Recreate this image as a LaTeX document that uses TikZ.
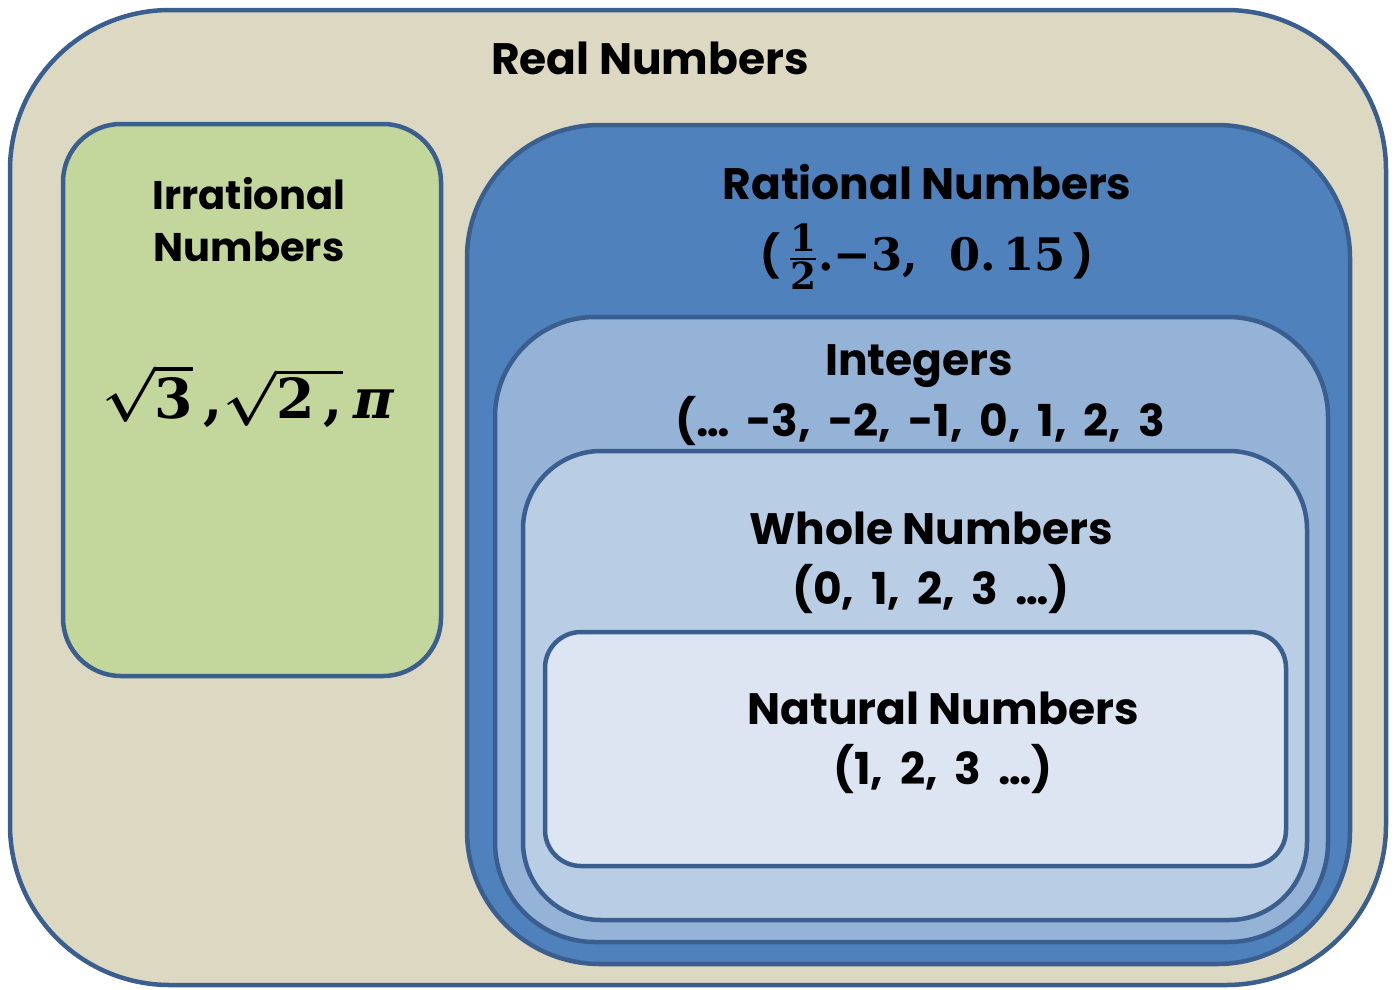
\documentclass[tikz,border=0pt]{standalone}
\usepackage{amsmath,graphicx}
\usepackage[no-math]{fontspec}
\setmainfont{Poppins}
\newfontfamily\numfont{Poppins}[WordSpace=1.8]
\newfontfamily\cmb{DejaVu Serif}
\newcommand{\bn}[1]{\text{\cmb\bfseries #1}}
\definecolor{edge}{HTML}{3A5F8E}
\definecolor{tan}{HTML}{DDD8C2}
\definecolor{irr}{HTML}{C3D69B}
\definecolor{rat}{HTML}{4F81BD}
\definecolor{intc}{HTML}{95B3D7}
\definecolor{whole}{HTML}{B9CDE5}
\definecolor{nat}{HTML}{DCE5F1}
\tikzset{
  setbox/.style={draw=edge, line width=4.5pt},
  ttl/.style={anchor=base, inner sep=0pt, font=\fontsize{44}{50}\selectfont\bfseries},
  nums/.style={anchor=base, inner sep=0pt, font=\fontsize{44}{50}\selectfont\numfont\bfseries},
  mth/.style={anchor=base, inner sep=0pt, font=\fontsize{24.88}{30}\selectfont\boldmath},
}
\begin{document}
\begin{tikzpicture}[x=1pt,y=-1pt]
\useasboundingbox (0,0) rectangle (1397,989);
% outer
\draw[setbox, fill=tan, rounded corners=160pt] (10,10) rectangle (1386,985);
\node[ttl] (real) at (650,74) {Real Numbers};
% irrational
\draw[setbox, fill=irr, rounded corners=58pt] (63,124) rectangle (441,676);
\node[ttl, font=\fontsize{40}{46}\selectfont\bfseries] (irr1) at (249,209) {Irrational};
\node[ttl, font=\fontsize{40}{46}\selectfont\bfseries] (irr2) at (249,261) {Numbers};
\node[mth] (irrm) at (248,418) {\scalebox{2.22}{$\sqrt{\bn{3}}\,\bn{,}\sqrt{\bn{2\,,}}\,\bn{\itshape π}$}};
% rational
\draw[setbox, fill=rat, rounded corners=133pt] (467,125) rectangle (1350,964);
\node[ttl] (rat1) at (927,199) {Rational Numbers};
\node[mth] (rat2) at (927,270) {\scalebox{1.8}{\textbf{\fontsize{23}{26}\selectfont(}\,$\frac{\bn{1}}{\bn{2}}\bn{.−3,\ \ 0.\,15}$\,\textbf{\fontsize{23}{26}\selectfont)}}};
% integers
\draw[setbox, fill=intc, rounded corners=100pt] (495,317) rectangle (1328,942);
\node[ttl] (int1) at (919,375) {Integers};
\node[nums] (int2) at (920,436) {(\dots\ -3, -2, -1, 0, 1, 2, 3};
% whole
\draw[setbox, fill=whole, rounded corners=78pt] (523,451) rectangle (1307,920);
\node[ttl] (wh1) at (931,544) {Whole Numbers};
\node[nums] (wh2) at (931,604) {(0, 1, 2, 3 \dots)};
% natural
\draw[setbox, fill=nat, rounded corners=36pt] (545,632) rectangle (1286,866);
\node[ttl] (nat1) at (943,724) {Natural Numbers};
\node[nums] (nat2) at (943,784) {(1, 2, 3 \dots)};
\end{tikzpicture}
\end{document}
